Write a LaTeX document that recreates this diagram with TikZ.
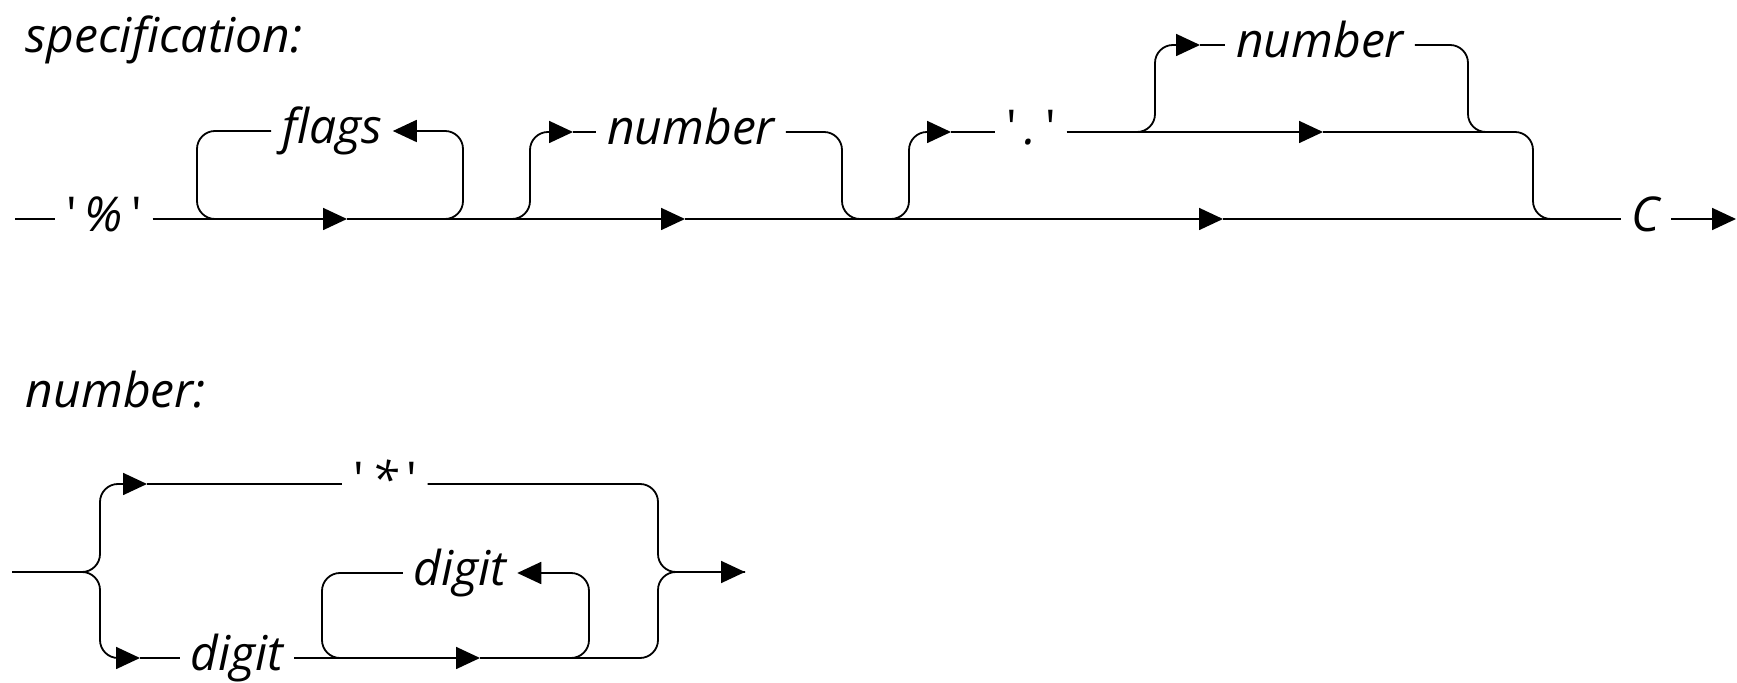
\documentclass[tikz,border=0pt]{standalone}
\usepackage{fontspec}
\setmainfont{Open Sans}
\usetikzlibrary{arrows.meta,positioning}
\newcommand{\qt}[1]{{\upshape\textquotesingle}\,#1\,{\upshape\textquotesingle}}
\tikzstyle{line} = [draw, -{Triangle[length=12pt,width=11pt]}]
\tikzstyle{term} = [font=\fontsize{24}{29}\selectfont\itshape, inner xsep=5pt, inner ysep=0pt, text height=17pt, text depth=4.5pt]
\tikzstyle{head} = [font=\fontsize{24}{29}\selectfont\itshape, inner sep=0pt, anchor=base west]

\begin{document}
\begin{tikzpicture}[x=0.5pt,y=-0.5pt,line width=0.9pt,rounded corners=9pt]
  \useasboundingbox (0,0) rectangle (1737,683);
  % --- specification ---
  \node[head] (spec) at (25,53) {specification:}; % heading
  \coordinate (s0) at (15,219); % entry
  \node[term] (pct) at (104,219) {\qt{\%}};
  \coordinate (m1) at (347,219); % arrows on main line
  \coordinate (m2) at (685,219);
  \coordinate (m3) at (1223,219);
  \node[term] (c) at (1646,219) {C};
  \coordinate (s1) at (1736,219); % exit
  \draw (s0) -- (pct.west);
  \draw[line] (pct.east) -- (m1);
  \draw[line] (m1) -- (m2);
  \draw[line] (m2) -- (m3);
  \draw (m3) -- (c.west);
  \draw[line] (c.east) -- (s1);
  % flags loop
  \coordinate (fl) at (197,219);
  \coordinate (fr) at (463,219);
  \node[term] (flags) at (332,131) {flags};
  \draw (flags.west) -| (fl) -- ([xshift=12pt]fl);
  \draw[line] ([xshift=-12pt]fr) -- (fr) |- (flags.east);
  % optional width
  \coordinate (nl) at (530,219);
  \coordinate (nr) at (842,219);
  \coordinate (na) at (573,132);
  \node[term] (num1) at (691,132) {number};
  \draw[line] ([xshift=-12pt]nl) -- (nl) |- (na);
  \draw (na) -- (num1.west);
  \draw (num1.east) -| (nr) -- ([xshift=12pt]nr);
  % optional precision
  \coordinate (dl) at (909,219);
  \coordinate (dr) at (1533,219);
  \coordinate (da) at (951,132);
  \coordinate (db) at (1323,132);
  \node[term] (dot) at (1031,132) {\qt{.}};
  \draw[line] ([xshift=-12pt]dl) -- (dl) |- (da);
  \draw (da) -- (dot.west);
  \draw[line] (dot.east) -- (db);
  \draw (db) -| (dr) -- ([xshift=12pt]dr);
  % number after '.'
  \coordinate (tl) at (1155,132);
  \coordinate (tr) at (1468,132);
  \coordinate (ta) at (1200,45);
  \node[term] (num2) at (1320,45) {number};
  \draw[line] ([xshift=-12pt]tl) -- (tl) |- (ta);
  \draw (ta) -- (num2.west);
  \draw (num2.east) -| (tr) -- ([xshift=12pt]tr);
  % --- number ---
  \node[head] (numh) at (25,408) {number:}; % heading
  \coordinate (n0) at (12,572); % entry
  \coordinate (nb) at (100,572); % branch
  \coordinate (nm) at (658,572); % merge
  \coordinate (n1) at (745,572); % exit
  \coordinate (ua) at (147,484);
  \node[term] (star) at (385,484) {\qt{*}};
  \draw[line] (n0) -- (nb) |- (ua);
  \draw (ua) -- (star.west);
  \draw[line] (star.east) -| (nm) -- (n1);
  \coordinate (la) at (140,658);
  \coordinate (lb) at (480,658);
  \node[term] (dig1) at (237,658) {digit};
  \draw[line] (n0) -- (nb) |- (la);
  \draw (la) -- (dig1.west);
  \draw[line] (dig1.east) -- (lb);
  \draw (lb) -| (nm) -- (n1);
  % digit loop
  \coordinate (gl) at (322,658);
  \coordinate (gr) at (589,658);
  \node[term] (dig2) at (460,573) {digit};
  \draw (dig2.west) -| (gl) -- ([xshift=12pt]gl);
  \draw[line] ([xshift=-12pt]gr) -- (gr) |- (dig2.east);
\end{tikzpicture}
\end{document}
